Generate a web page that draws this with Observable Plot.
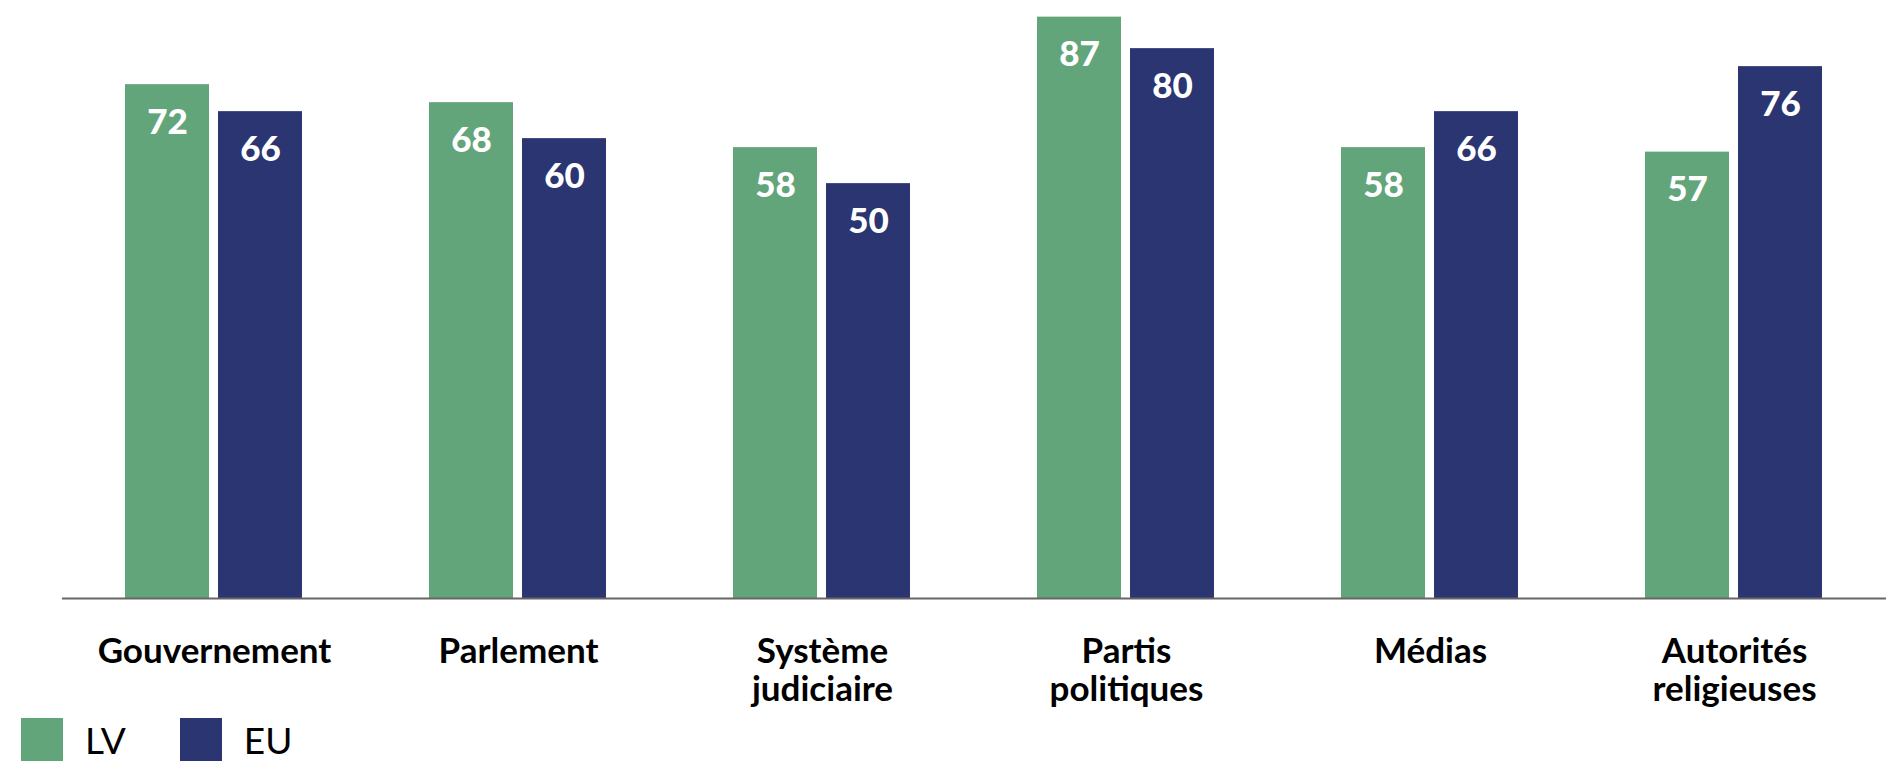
<!DOCTYPE html>
<html>
<head>
<meta charset="utf-8">
<script src="https://cdn.jsdelivr.net/npm/d3@7"></script>
<script src="https://cdn.jsdelivr.net/npm/@observablehq/plot@0.6"></script>
<style>
  html, body { margin: 0; padding: 0; background: #fff; }
  body { width: 1904px; height: 780px; overflow: hidden; font-family: Lato, "Open Sans", sans-serif; }
  #legend { display: flex; align-items: center; height: 43px; margin-top: 6px; padding-left: 21px; }
  .sw { width: 42px; height: 43px; }
  .lab { font-size: 37px; color: #000; margin-left: 22px; line-height: 43px; }
</style>
</head>
<body>
<div id="chart"></div>
<div id="legend"></div>
<script>
const categories = ["Gouvernement", "Parlement", "Système judiciaire", "Partis politiques", "Médias", "Autorités religieuses"];
const categoryLabels = ["Gouvernement", "Parlement", "Système\njudiciaire", "Partis\npolitiques", "Médias", "Autorités\nreligieuses"];
const seriesNames = ["LV", "EU"];
const lvValues = [72, 68, 58, 87, 58, 57];
const euValues = [66, 60, 50, 80, 66, 76];
const seriesColors = ["#63a57a", "#2a3572"];
const yMin = -42.2, yMax = 90.7;

const data = [];
categories.forEach((c, i) => {
  data.push({category: c, series: "LV", value: lvValues[i]});
  data.push({category: c, series: "EU", value: euValues[i]});
});
const labelOf = new Map(categories.map((c, i) => [c, categoryLabels[i]]));

const chart = Plot.plot({
  width: 1904,
  height: 712,
  marginLeft: 60,
  marginRight: 17,
  marginTop: 0,
  marginBottom: 114,
  style: {fontFamily: "Lato, 'Open Sans', sans-serif", background: "#fff"},
  fx: {domain: categories, padding: 0, axis: null},
  x: {domain: seriesNames, paddingInner: 0.095, paddingOuter: 0.68, axis: null},
  y: {domain: [yMin, yMax], axis: null},
  color: {domain: seriesNames, range: seriesColors},
  marks: [
    Plot.barY(data, {fx: "category", x: "series", y1: yMin, y2: "value", fill: "series"}),
    Plot.text(data, {
      fx: "category", x: "series", y: "value", text: d => String(d.value),
      fill: "#fff", fontSize: 35, fontWeight: 900, lineAnchor: "middle", dy: 38
    }),
    Plot.ruleY([yMin], {stroke: "#666", strokeWidth: 2}),
    Plot.text(categories, {
      fx: d => d, text: d => labelOf.get(d), frameAnchor: "bottom",
      lineAnchor: "top", dy: 37, fontSize: 35, fontWeight: 700, fill: "#000", lineHeight: 1.09
    })
  ]
});
document.getElementById("chart").appendChild(chart);

const legend = document.getElementById("legend");
seriesNames.forEach((s, i) => {
  const sw = document.createElement("div");
  sw.className = "sw";
  sw.style.background = seriesColors[i];
  if (i > 0) sw.style.marginLeft = "54px";
  const lab = document.createElement("span");
  lab.className = "lab";
  lab.textContent = s;
  legend.appendChild(sw);
  legend.appendChild(lab);
});
</script>
</body>
</html>
